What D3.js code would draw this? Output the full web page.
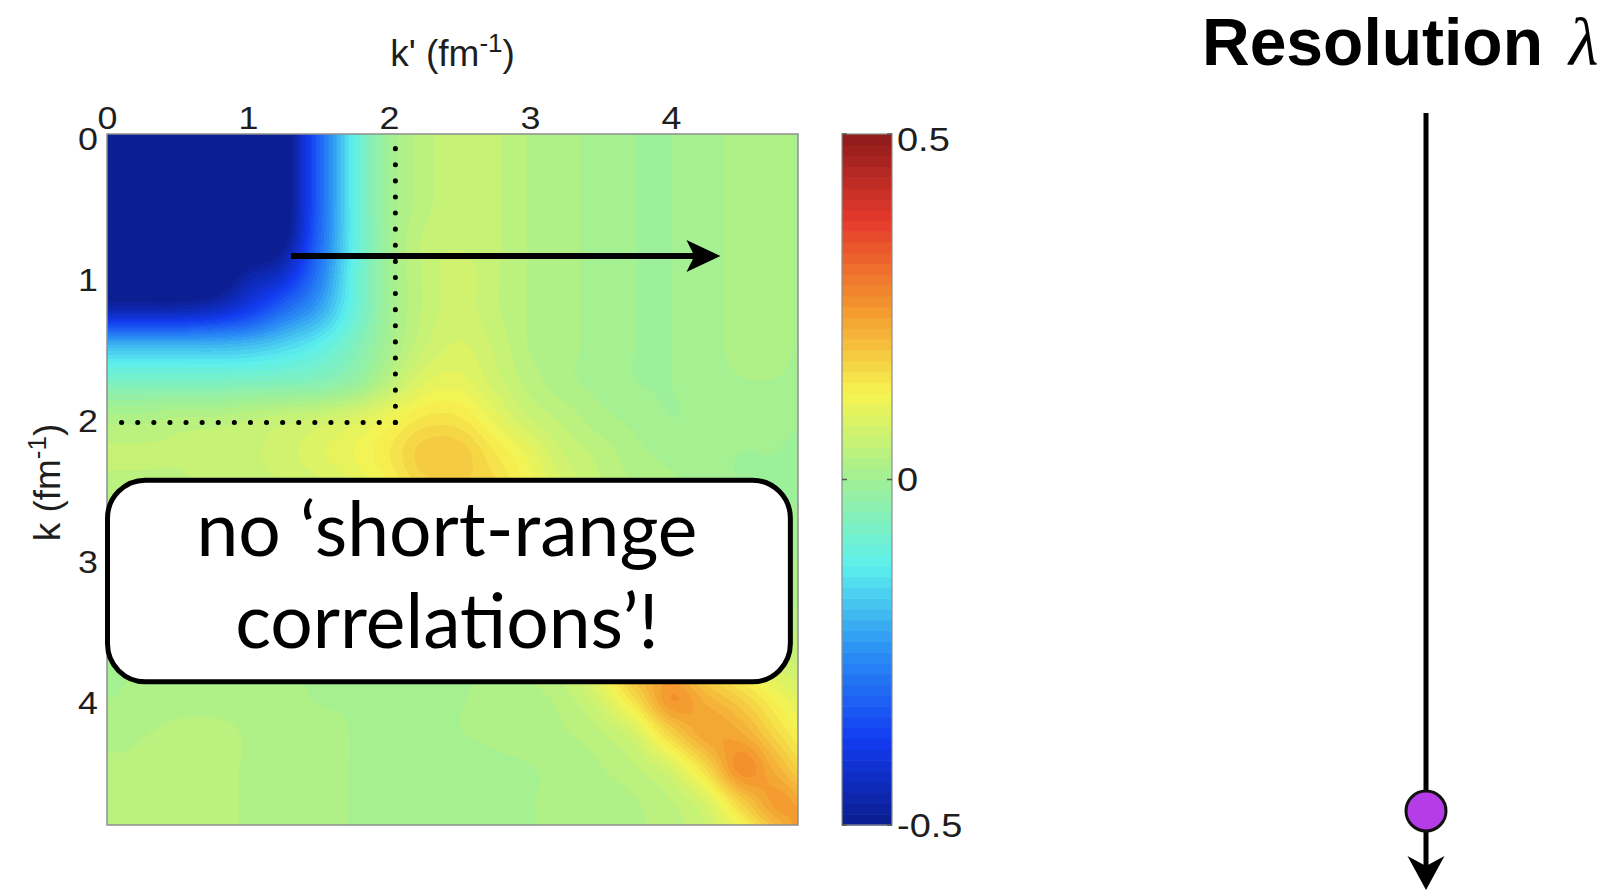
<!DOCTYPE html>
<html>
<head>
<meta charset="utf-8">
<script src="https://cdn.jsdelivr.net/npm/d3@7"></script>
<style>
  html, body { margin: 0; padding: 0; background: #ffffff; }
  svg { display: block; }
</style>
</head>
<body>
<svg id="chart" width="1613" height="891"></svg>
<script>
// Momentum nodes (fm^-1) shared by rows (k) and columns (k')
const kNodes = [0, 0.25, 0.5, 0.75, 1, 1.25, 1.5, 1.75, 2, 2.25, 2.5, 2.75, 3, 3.25, 3.5, 3.75, 4, 4.25, 4.5, 4.75, 5];

// Potential matrix V(k, k'): one row per k node, one column per k' node
const values = [
  [-0.55,-0.55,-0.55,-0.55,-0.55,-0.52,-0.32,-0.12,0.00,0.04,0.06,0.05,0.03,0.02,0.01,0.00,0.00,0.01,0.02,0.02,0.01],
  [-0.55,-0.55,-0.55,-0.55,-0.55,-0.52,-0.32,-0.12,0.00,0.04,0.06,0.05,0.03,0.02,0.01,0.00,0.00,0.01,0.02,0.02,0.01],
  [-0.55,-0.55,-0.55,-0.55,-0.55,-0.52,-0.32,-0.12,0.00,0.04,0.06,0.05,0.03,0.02,0.01,0.00,0.00,0.01,0.02,0.02,0.01],
  [-0.55,-0.55,-0.55,-0.55,-0.55,-0.50,-0.31,-0.12,0.00,0.05,0.06,0.05,0.03,0.02,0.01,0.00,0.00,0.01,0.02,0.02,0.01],
  [-0.55,-0.55,-0.55,-0.54,-0.47,-0.42,-0.28,-0.11,0.00,0.05,0.07,0.05,0.03,0.02,0.01,0.00,0.00,0.01,0.02,0.02,0.01],
  [-0.45,-0.45,-0.45,-0.43,-0.38,-0.30,-0.22,-0.10,0.00,0.05,0.07,0.05,0.03,0.02,0.01,0.00,0.00,0.01,0.02,0.02,0.01],
  [-0.20,-0.20,-0.20,-0.20,-0.19,-0.16,-0.12,-0.06,0.01,0.06,0.08,0.06,0.03,0.02,0.01,0.00,0.00,0.01,0.02,0.02,0.01],
  [-0.07,-0.07,-0.07,-0.07,-0.065,-0.06,-0.05,-0.02,0.04,0.09,0.10,0.07,0.04,0.02,0.01,0.00,0.00,0.01,0.015,0.015,0.01],
  [0.02,0.02,0.03,0.03,0.04,0.05,0.06,0.08,0.11,0.14,0.14,0.10,0.06,0.04,0.02,0.01,0.00,0.005,0.01,0.01,0.00],
  [0.05,0.05,0.05,0.06,0.06,0.07,0.09,0.11,0.14,0.18,0.18,0.14,0.10,0.06,0.04,0.02,0.01,0.005,0.00,0.00,-0.01],
  [0.04,0.04,0.04,0.05,0.05,0.06,0.07,0.09,0.12,0.16,0.17,0.16,0.12,0.08,0.05,0.03,0.02,0.01,0.00,0.00,-0.01],
  [0.03,0.03,0.03,0.03,0.03,0.03,0.04,0.05,0.07,0.10,0.14,0.17,0.15,0.11,0.07,0.04,0.03,0.02,0.01,0.01,0.00],
  [0.02,0.02,0.02,0.02,0.02,0.02,0.02,0.03,0.04,0.06,0.09,0.13,0.17,0.15,0.11,0.07,0.04,0.03,0.02,0.02,0.01],
  [0.02,0.02,0.02,0.02,0.02,0.02,0.02,0.02,0.02,0.03,0.05,0.08,0.12,0.18,0.16,0.12,0.08,0.05,0.04,0.03,0.02],
  [0.015,0.015,0.015,0.015,0.015,0.015,0.015,0.015,0.015,0.02,0.03,0.04,0.07,0.12,0.19,0.17,0.13,0.09,0.06,0.05,0.04],
  [0.015,0.015,0.015,0.015,0.015,0.015,0.015,0.015,0.015,0.015,0.015,0.02,0.04,0.07,0.13,0.21,0.19,0.14,0.10,0.07,0.06],
  [0.015,0.02,0.025,0.025,0.025,0.02,0.015,0.015,0.015,0.015,0.015,0.02,0.025,0.04,0.08,0.16,0.25,0.21,0.17,0.12,0.08],
  [0.025,0.03,0.035,0.035,0.03,0.025,0.02,0.015,0.01,0.01,0.015,0.02,0.025,0.03,0.045,0.08,0.17,0.23,0.22,0.16,0.11],
  [0.035,0.035,0.04,0.035,0.03,0.025,0.02,0.015,0.01,0.005,0.005,0.01,0.015,0.02,0.03,0.045,0.08,0.16,0.26,0.21,0.15],
  [0.04,0.04,0.04,0.035,0.03,0.025,0.02,0.015,0.01,0.005,0.005,0.01,0.015,0.02,0.025,0.03,0.045,0.08,0.17,0.24,0.22],
  [0.045,0.045,0.04,0.035,0.03,0.025,0.02,0.015,0.015,0.01,0.01,0.015,0.015,0.02,0.025,0.03,0.04,0.06,0.10,0.18,0.28]
];

const xTicks = [0, 1, 2, 3, 4];
const yTicks = [0, 1, 2, 3, 4];
const colorTicks = [-0.5, 0, 0.5];
const colorTickLabels = ["-0.5", "0", "0.5"];
const colorDomain = [-0.5, 0.5];

// Jet-style palette stops (position along the colour range, colour)
const jetPos = [0, 0.125, 0.25, 0.375, 0.5, 0.625, 0.75, 0.875, 1];
const jetColors = ["#0a1c8c", "#123cf2", "#2a8ef4", "#5cf0ee", "#a0f094", "#f6f450", "#f4962e", "#e53a2c", "#8c1a1a"];
const paletteLevels = 64;

// Cut-off momentum marked by the dotted lines, and the evolution arrow
const cutoffK = 2.045;
const arrowRow = 0.865;
const arrowFrom = 1.305;
const arrowTo = 4.35;

const captionLines = ["no \u2018short-range", "correlations\u2019!"];

const svg = d3.select("#chart");

const x = d3.scaleLinear().domain([0, 4.9]).range([107, 798]);
const y = d3.scaleLinear().domain([0, 4.9]).range([134, 825]);

// Quantised jet lookup table
const jet = d3.scaleLinear().domain(jetPos).range(jetColors).interpolate(d3.interpolateRgb).clamp(true);
const lut = d3.range(paletteLevels).map(i => d3.rgb(jet((i + 0.5) / paletteLevels)));
const level = d3.scaleQuantize().domain(colorDomain).range(d3.range(paletteLevels));
const colorOf = v => lut[level(Math.max(colorDomain[0], Math.min(colorDomain[1] - 1e-9, v)))];

// Smooth (Catmull-Rom) shading of the matrix between nodes
const step = kNodes[1] - kNodes[0];
const n = kNodes.length;
const cell = (i, j) => values[Math.max(0, Math.min(n - 1, i))][Math.max(0, Math.min(n - 1, j))];
function cubic(p0, p1, p2, p3, t) {
  return p1 + 0.5 * t * (p2 - p0 + t * (2 * p0 - 5 * p1 + 4 * p2 - p3 + t * (3 * (p1 - p2) + p3 - p0)));
}
function sample(kp, k) {
  const fx = kp / step, fy = k / step;
  const j = Math.min(n - 2, Math.floor(fx)), i = Math.min(n - 2, Math.floor(fy));
  const tx = fx - j, ty = fy - i;
  const rows = [-1, 0, 1, 2].map(di =>
    cubic(cell(i + di, j - 1), cell(i + di, j), cell(i + di, j + 1), cell(i + di, j + 2), tx));
  return cubic(rows[0], rows[1], rows[2], rows[3], ty);
}

// Heat map raster
const x0 = x.range()[0], y0 = y.range()[0];
const W = Math.round(x.range()[1] - x0), H = Math.round(y.range()[1] - y0);
const canvas = document.createElement("canvas");
canvas.width = W; canvas.height = H;
const ctx = canvas.getContext("2d");
const img = ctx.createImageData(W, H);
for (let py = 0; py < H; py++) {
  const k = y.invert(y0 + py + 0.5);
  for (let px = 0; px < W; px++) {
    const kp = x.invert(x0 + px + 0.5);
    const c = colorOf(sample(kp, k));
    const o = (py * W + px) * 4;
    img.data[o] = c.r; img.data[o + 1] = c.g; img.data[o + 2] = c.b; img.data[o + 3] = 255;
  }
}
ctx.putImageData(img, 0, 0);
svg.append("image")
  .attr("href", canvas.toDataURL())
  .attr("x", x0).attr("y", y0)
  .attr("width", W).attr("height", H)
  .attr("preserveAspectRatio", "none");

svg.append("rect")
  .attr("x", x0).attr("y", y0).attr("width", W).attr("height", H)
  .attr("fill", "none").attr("stroke", "#8e8e8e").attr("stroke-width", 1.5);

// Axes
const labelFont = "Liberation Sans, Arial, sans-serif";
const tickFont = g => g.selectAll("text")
  .attr("font-family", labelFont)
  .attr("font-size", 32).attr("fill", "#1e1e1e")
  .attr("transform", "scale(1.12,1)");

svg.append("g")
  .attr("transform", `translate(0,${y(0)})`)
  .call(d3.axisTop(x).tickValues(xTicks).tickSize(0).tickPadding(5).tickFormat(d3.format("d")))
  .call(g => g.select(".domain").remove())
  .call(tickFont);

svg.append("g")
  .attr("transform", `translate(${x(0)},0)`)
  .call(d3.axisLeft(y).tickValues(yTicks).tickSize(0).tickPadding(8).tickFormat(d3.format("d")))
  .call(g => g.select(".domain").remove())
  .call(tickFont)
  .call(g => g.selectAll("text").attr("dy", "0.48em"));

// Axis titles
function axisTitle(sel, base) {
  sel.attr("font-family", labelFont).attr("font-size", 37).attr("fill", "#1e1e1e")
    .attr("text-anchor", "middle");
  sel.append("tspan").text(base + " (fm");
  sel.append("tspan").attr("dy", -14).attr("font-size", 26).text("-1");
  sel.append("tspan").attr("dy", 14).text(")");
}
svg.append("text")
  .attr("transform", `translate(${(x(0) + x(4.9)) / 2}, 66)`)
  .call(axisTitle, "k'");
svg.append("text")
  .attr("transform", `translate(60,${(y(0) + y(4.9)) / 2 + 3}) rotate(-90)`)
  .call(axisTitle, "k");

// Dotted cut-off lines
const dots = svg.append("g")
  .attr("fill", "none").attr("stroke", "#000")
  .attr("stroke-width", 5).attr("stroke-linecap", "round")
  .attr("stroke-dasharray", "0.1 16");
dots.append("path").attr("d", d3.line()([[x(cutoffK), y(cutoffK)], [x(0), y(cutoffK)]]));
dots.append("path").attr("d", d3.line()([[x(cutoffK), y(cutoffK)], [x(cutoffK), y(0)]]));

// Horizontal evolution arrow
const hx1 = x(arrowFrom), hx2 = x(arrowTo), hy = y(arrowRow);
svg.append("line")
  .attr("x1", hx1).attr("x2", hx2 - 20).attr("y1", hy).attr("y2", hy)
  .attr("stroke", "#000").attr("stroke-width", 6);
svg.append("path")
  .attr("d", `M${hx2},${hy} L${hx2 - 34},${hy - 16} L${hx2 - 26},${hy} L${hx2 - 34},${hy + 16} Z`)
  .attr("fill", "#000");

// Caption box
const bx1 = x(0) + 0.5, bx2 = x(4.86) - 2, by1 = y(2.455), by2 = y(3.885);
svg.append("rect")
  .attr("x", bx1).attr("y", by1).attr("width", bx2 - bx1).attr("height", by2 - by1)
  .attr("rx", 38).attr("ry", 38)
  .attr("fill", "#fff").attr("stroke", "#000").attr("stroke-width", 5);
svg.append("g")
  .selectAll("text").data(captionLines).join("text")
  .attr("x", (bx1 + bx2) / 2 - 2)
  .attr("y", (d, i) => 556 + i * 92)
  .attr("text-anchor", "middle")
  .attr("font-family", "Lato, 'Open Sans', sans-serif")
  .attr("font-size", 75).attr("fill", "#000")
  .text(d => d);

// Colour bar
const cbX = 842, cbW = 50;
const cb = d3.scaleLinear().domain(colorDomain).range([825, 134]);
const bandH = (cb(colorDomain[0]) - cb(colorDomain[1])) / paletteLevels;
svg.append("g").selectAll("rect").data(lut).join("rect")
  .attr("x", cbX)
  .attr("y", (d, i) => cb(colorDomain[0] + (i + 1) * (colorDomain[1] - colorDomain[0]) / paletteLevels))
  .attr("width", cbW).attr("height", bandH + 0.6)
  .attr("fill", d => d.formatHex());
svg.append("rect")
  .attr("x", cbX).attr("y", cb(colorDomain[1])).attr("width", cbW)
  .attr("height", cb(colorDomain[0]) - cb(colorDomain[1]))
  .attr("fill", "none").attr("stroke", "#8e8e8e").attr("stroke-width", 1.2);
const cbTicks = svg.append("g").attr("stroke", "#555").attr("stroke-width", 1.5);
colorTicks.forEach(v => {
  cbTicks.append("line").attr("x1", cbX).attr("x2", cbX + 5).attr("y1", cb(v)).attr("y2", cb(v));
  cbTicks.append("line").attr("x1", cbX + cbW - 5).attr("x2", cbX + cbW).attr("y1", cb(v)).attr("y2", cb(v));
});
svg.append("g").selectAll("text").data(colorTicks).join("text")
  .attr("transform", d => `translate(${cbX + cbW + 5},${Math.max(139, Math.min(828, cb(d)))}) scale(1.15,1)`)
  .attr("dy", "0.36em")
  .attr("font-family", labelFont)
  .attr("font-size", 33).attr("fill", "#1e1e1e")
  .text((d, i) => colorTickLabels[i]);

// Resolution scale on the right
const rx = 1426;
const res = svg.append("text").attr("x", 1202).attr("y", 65)
  .attr("fill", "#000");
res.append("tspan").attr("font-family", labelFont)
  .attr("font-weight", "bold").attr("font-size", 66).text("Resolution");
res.append("tspan").attr("dx", 26).attr("font-family", "Liberation Serif, 'DejaVu Serif', serif")
  .attr("font-style", "italic").attr("font-size", 68).text("\u03bb");

svg.append("line")
  .attr("x1", rx).attr("x2", rx).attr("y1", 113).attr("y2", 872)
  .attr("stroke", "#000").attr("stroke-width", 5);
svg.append("path")
  .attr("d", `M${rx},890 L${rx - 18.5},856 L${rx},866 L${rx + 18.5},856 Z`)
  .attr("fill", "#000");
svg.append("circle")
  .attr("cx", rx).attr("cy", 811).attr("r", 20)
  .attr("fill", "#b63ce8").attr("stroke", "#111").attr("stroke-width", 3);
</script>
</body>
</html>
